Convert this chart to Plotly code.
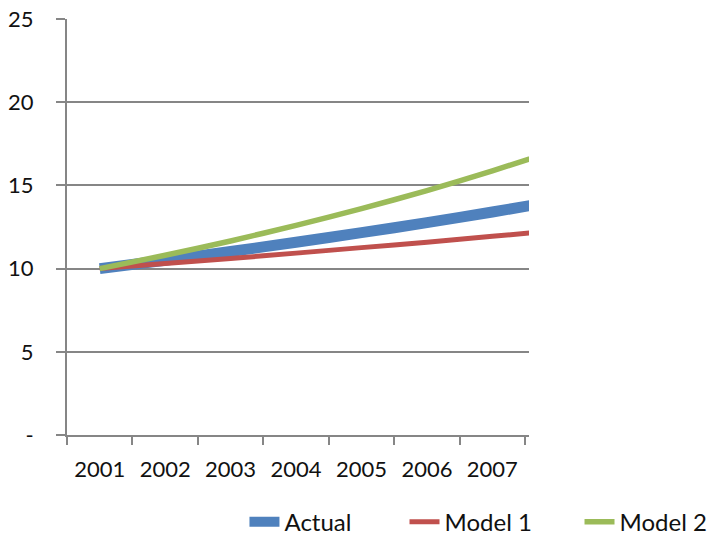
import plotly.graph_objects as go

years = [2001, 2002, 2003, 2004, 2005, 2006, 2007, 2008]
actual = [10.0, 10.5, 11.03, 11.58, 12.16, 12.76, 13.40, 14.07]
model1 = [10.0, 10.3, 10.61, 10.93, 11.26, 11.59, 11.94, 12.30]
model2 = [10.0, 10.8, 11.66, 12.60, 13.60, 14.69, 15.87, 17.14]

year_labels = ["2001", "2002", "2003", "2004", "2005", "2006", "2007"]
y_tickvals = [0, 5, 10, 15, 20, 25]
y_ticktext = ["-", "5", "10", "15", "20", "25"]

BLUE = "#4F81BD"
RED = "#C0504D"
GREEN = "#9BBB59"
GRID = "#868686"
FONT = "Lato"
TXT = "#111111"

fig = go.Figure()
fig.add_trace(go.Scatter(x=years, y=actual, mode="lines", name="Actual",
                         line=dict(color=BLUE, width=11, shape="spline", smoothing=0.6),
                         legend="legend"))
fig.add_trace(go.Scatter(x=years, y=model1, mode="lines", name="Model 1",
                         line=dict(color=RED, width=5, shape="spline", smoothing=0.6),
                         legend="legend2"))
fig.add_trace(go.Scatter(x=years, y=model2, mode="lines", name="Model 2",
                         line=dict(color=GREEN, width=5.5, shape="spline", smoothing=0.6),
                         legend="legend3"))


def leg(xpos):
    return dict(orientation="h", xref="container", yref="container",
                x=xpos, xanchor="left", y=0.047, yanchor="middle",
                font=dict(family=FONT, size=24, color=TXT),
                itemwidth=30, bgcolor="rgba(0,0,0,0)")


fig.update_layout(
    width=719, height=548,
    margin=dict(l=67, r=190, t=19, b=113, autoexpand=False),
    paper_bgcolor="white", plot_bgcolor="white",
    font=dict(family=FONT, size=22, color=TXT),
    showlegend=True,
    legend=leg(0.340),
    legend2=leg(0.5626),
    legend3=leg(0.806),
)

fig.update_xaxes(
    range=[2000.5, 2007.56], automargin=False,
    tickvals=years[:7], ticktext=year_labels,
    ticks="", showgrid=False, zeroline=False,
    showline=True, linecolor=GRID, linewidth=2,
    ticklabelstandoff=14,
    minor=dict(tickvals=[y - 0.5 for y in years], ticks="outside", ticklen=8,
               tickwidth=2, tickcolor=GRID, showgrid=False),
)
fig.update_yaxes(
    range=[0, 25], automargin=False,
    tickvals=y_tickvals, ticktext=y_ticktext,
    ticks="outside", ticklen=9, tickwidth=2, tickcolor=GRID,
    showgrid=True, gridcolor=GRID, gridwidth=2,
    zeroline=False, showline=True, linecolor=GRID, linewidth=2,
    ticklabelstandoff=18,
)

fig.write_html("out.html")
